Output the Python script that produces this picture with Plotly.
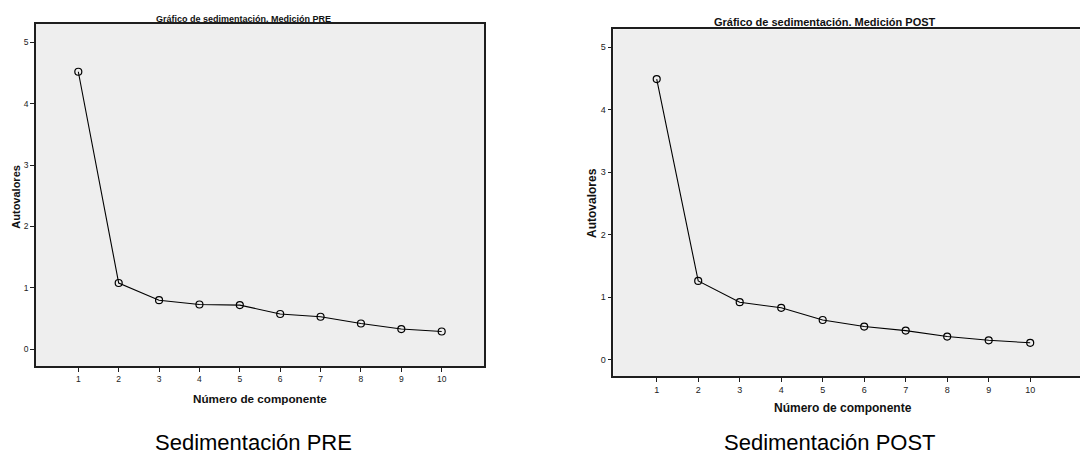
import plotly.graph_objects as go

# ---- data ----
componentes = [1, 2, 3, 4, 5, 6, 7, 8, 9, 10]
autovalores_pre = [4.52, 1.08, 0.80, 0.73, 0.72, 0.575, 0.53, 0.42, 0.33, 0.29]
autovalores_post = [4.49, 1.26, 0.92, 0.83, 0.635, 0.53, 0.465, 0.37, 0.31, 0.27]
y_ticks = [0, 1, 2, 3, 4, 5]
titulo_pre = "Gráfico de sedimentación. Medición PRE"
titulo_post = "Gráfico de sedimentación. Medición POST"
label_x = "Número de componente"
label_y = "Autovalores"
caption_pre = "Sedimentación PRE"
caption_post = "Sedimentación POST"

W, H = 1080, 456
FONT = "Liberation Sans, Arial, sans-serif"
AXC = "#1e1e1e"


def px(x):
    return x / W


def py(y):
    return 1 - y / H


fig = go.Figure()

for vals, xa, ya in [(autovalores_pre, "x", "y"), (autovalores_post, "x2", "y2")]:
    fig.add_trace(go.Scatter(
        x=componentes, y=vals, xaxis=xa, yaxis=ya, mode="lines+markers",
        line=dict(color="#000000", width=1.1),
        marker=dict(symbol="circle-open", size=7, color="#000000",
                    line=dict(width=1.2, color="#000000")),
        showlegend=False, hoverinfo="x+y"))


def xaxis(domain, rng, fs, mirror):
    return dict(domain=domain, range=rng, tickmode="array", tickvals=componentes,
                ticks="outside", ticklen=4, tickwidth=1, tickcolor=AXC,
                showline=True, linecolor=AXC, linewidth=1.6, mirror=mirror,
                showgrid=False, zeroline=False,
                tickfont=dict(family=FONT, size=fs, color="#222"))


def yaxis(domain, rng, fs, mirror, anchor):
    return dict(domain=domain, range=rng, tickmode="array", tickvals=y_ticks,
                ticks="outside", ticklen=4, tickwidth=1, tickcolor=AXC,
                showline=True, linecolor=AXC, linewidth=1.6, mirror=mirror,
                showgrid=False, zeroline=False, anchor=anchor,
                tickfont=dict(family=FONT, size=fs, color="#222"))


fig.update_layout(
    width=W, height=H, margin=dict(l=0, r=0, t=0, b=0),
    paper_bgcolor="white", plot_bgcolor="#eeeeee",
    xaxis=xaxis([px(36), px(484)], [-0.048, 11.048], 8.5, True),
    yaxis=yaxis([py(366), py(24)], [-0.272, 5.298], 8.5, True, "x"),
    xaxis2=dict(**xaxis([px(613.3), 1.0], [-0.046, 11.2], 9, True), anchor="y2"),
    yaxis2=yaxis([py(376.3), py(29.3)], [-0.266, 5.286], 9, False, "x2"),
)
fig.layout.xaxis.anchor = "y"

annots = [
    (titulo_pre, 243, 19, 9, True, 0, "middle"),
    (titulo_post, 825, 22, 11, True, 0, "middle"),
    (label_x, 259.7, 398, 11.7, True, 0, "middle"),
    (label_x, 843, 408, 12, True, 0, "middle"),
    (label_y, 15.7, 197, 11, True, -90, "middle"),
    (label_y, 592, 203, 12, True, -90, "middle"),
    (caption_pre, 253.5, 456, 22, False, 0, "bottom"),
    (caption_post, 830, 456, 22, False, 0, "bottom"),
]
for text, x, y, fs, bold, ang, ya in annots:
    fig.add_annotation(
        text=f"<b>{text}</b>" if bold else text, x=px(x), y=py(y),
        xref="paper", yref="paper", xanchor="center", yanchor=ya,
        showarrow=False, textangle=ang, borderpad=0,
        font=dict(family=FONT, size=fs, color="#000000" if not bold else "#111"))

fig.write_html("out.html")
